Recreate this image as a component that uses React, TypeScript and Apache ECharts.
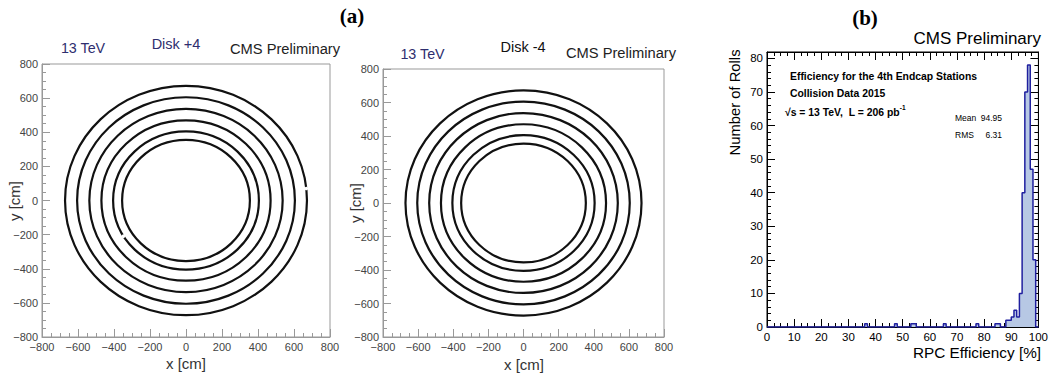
import React, { useEffect, useRef } from 'react';
import * as echarts from 'echarts';

// ---- data ----
const ringRadiiCm = [355, 405, 470, 537, 605, 672];
// small chamber gaps: [ring radius (cm), angle (deg)]
const gapsDiskPlus4 = [[672, 6], [405, 211]];
const gapsDiskMinus4: number[][] = [];

const effBinStart = [36, 47, 53, 54, 65, 77, 84, 85, 88, 89, 90, 91, 92, 93, 94, 95, 96, 97, 98];
const effBinCount = [1, 1, 1, 1, 1, 1, 1, 1, 2, 2, 3, 5, 3, 10, 40, 70, 78, 47, 20];

const statsLabels = ['Mean', 'RMS'];
const statsValues = ['94.95', '6.31'];

const SANS = '"Liberation Sans", Arial, Helvetica, sans-serif';
const SERIF = '"Liberation Serif", "Times New Roman", serif';

const fmtMinus = (v: number) => (v < 0 ? '\u2212' + Math.abs(v) : String(v));

function ringAxes(gi: number) {
  const common = {
    gridIndex: gi,
    type: 'value',
    min: -800,
    max: 800,
    interval: 200,
    axisLine: { show: true, onZero: false, lineStyle: { color: '#999', width: 1 } },
    axisTick: { show: true, inside: true, length: 8, lineStyle: { color: '#999' } },
    minorTick: { show: true, splitNumber: 4, length: 4, lineStyle: { color: '#999' } },
    splitLine: { show: false },
    axisLabel: { color: '#444', fontSize: 11, fontFamily: SANS, formatter: fmtMinus, margin: 4, showMinLabel: true, showMaxLabel: true },
  };
  return { x: { ...common }, y: { ...common } };
}

function ringSeries(gi: number, gaps: number[][]) {
  return [
    {
      type: 'custom',
      xAxisIndex: gi,
      yAxisIndex: gi,
      clip: false,
      encode: { x: 0, y: 1 },
      data: ringRadiiCm.map((r) => [0, 0, r]),
      renderItem: (params: any, api: any) => {
        const r = api.value(2);
        const c = api.coord([0, 0]);
        const s = api.size([r, r]);
        return {
          type: 'ellipse',
          shape: { cx: c[0], cy: c[1], rx: s[0], ry: s[1] },
          style: { fill: 'none', stroke: '#111', lineWidth: 2.2 },
        };
      },
    },
    {
      type: 'custom',
      xAxisIndex: gi,
      yAxisIndex: gi,
      clip: false,
      encode: { x: 0, y: 1 },
      data: gaps.map((g) => [0, 0, g[0], g[1]]),
      renderItem: (params: any, api: any) => {
        const r = api.value(2);
        const a = (api.value(3) * Math.PI) / 180;
        const p = api.coord([r * Math.cos(a), r * Math.sin(a)]);
        return {
          type: 'circle',
          shape: { cx: p[0], cy: p[1], r: 1.8 },
          style: { fill: '#fff', stroke: 'none' },
        };
      },
    },
  ];
}

function txt(text: string, x: number, y: number, opts: any = {}) {
  const { rotation, ...style } = opts;
  return {
    type: 'text',
    x,
    y,
    rotation: rotation || 0,
    style: {
      text,
      fill: '#000',
      fontSize: 14,
      fontFamily: SANS,
      textAlign: 'center',
      textVerticalAlign: 'middle',
      ...style,
    },
  };
}

export default function App() {
  const ref = useRef<HTMLDivElement>(null);
  useEffect(() => {
    if (!ref.current) return;
    const chart = echarts.init(ref.current, undefined, { renderer: 'svg' });

    const histCounts: number[] = new Array(100).fill(0);
    effBinStart.forEach((b, i) => {
      histCounts[b] = effBinCount[i];
    });
    const histData = histCounts.map((c, i) => [i, c]).concat([[100, 0]]);

    const a0 = ringAxes(0);
    const a1 = ringAxes(1);

    const histTick = { show: true, inside: true, length: 8, lineStyle: { color: '#000' } };
    const histAxisLine = { show: true, onZero: false, lineStyle: { color: '#000', width: 1 } };
    const histX = {
      gridIndex: 2,
      type: 'value',
      min: 0,
      max: 100,
      interval: 10,
      axisLine: histAxisLine,
      axisTick: histTick,
      minorTick: { show: true, splitNumber: 4, length: 4, lineStyle: { color: '#000' } },
      splitLine: { show: false },
      axisLabel: { color: '#000', fontSize: 11.5, fontFamily: SANS, margin: 4 },
    };
    const histY = {
      gridIndex: 2,
      type: 'value',
      min: 0,
      max: 81.9,
      interval: 10,
      axisLine: histAxisLine,
      axisTick: histTick,
      minorTick: { show: true, splitNumber: 5, length: 4, lineStyle: { color: '#000' } },
      splitLine: { show: false },
      axisLabel: {
        color: '#000',
        fontSize: 11.5,
        fontFamily: SANS,
        margin: 4,
        formatter: (v: number) => (v % 10 === 0 ? String(v) : ''),
      },
    };

    const option: any = {
      animation: false,
      backgroundColor: '#fff',
      grid: [
        { left: 42, top: 64, width: 288, height: 273, show: true, borderColor: '#999', borderWidth: 1, backgroundColor: 'transparent' },
        { left: 383, top: 69, width: 281, height: 268, show: true, borderColor: '#999', borderWidth: 1, backgroundColor: 'transparent' },
        { left: 767, top: 52, width: 275, height: 275, show: true, borderColor: '#000', borderWidth: 1, backgroundColor: 'transparent' },
      ],
      xAxis: [
        a0.x,
        a1.x,
        histX,
        { ...histX, position: 'top', axisLabel: { show: false } },
      ],
      yAxis: [
        a0.y,
        a1.y,
        histY,
        { ...histY, position: 'right', axisLabel: { show: false } },
      ],
      series: [
        ...ringSeries(0, gapsDiskPlus4),
        ...ringSeries(1, gapsDiskMinus4),
        {
          type: 'line',
          xAxisIndex: 2,
          yAxisIndex: 2,
          step: 'end',
          symbol: 'none',
          data: histData,
          lineStyle: { color: '#1f1f9f', width: 1.5 },
          areaStyle: { color: '#b7c8e4', opacity: 1, origin: 'start' },
          z: 3,
        },
      ],
      graphic: [
        txt('(a)', 352, 16, { fontFamily: SERIF, fontWeight: 'bold', fontSize: 21 }),
        txt('(b)', 865, 18, { fontFamily: SERIF, fontWeight: 'bold', fontSize: 21 }),
        // panel 1
        txt('13 TeV', 83, 47.5, { fill: '#2e2e6e', fontSize: 14.3 }),
        txt('Disk +4', 176, 43.5, { fill: '#2e2e6e', fontSize: 14.5 }),
        txt('CMS Preliminary', 285, 48.5, { fill: '#222', fontSize: 14.7 }),
        txt('x [cm]', 186, 363, { fill: '#333', fontSize: 15 }),
        txt('y [cm]', 14, 201, { fill: '#333', fontSize: 15, rotation: Math.PI / 2 }),
        // panel 2
        txt('13 TeV', 422.5, 53.5, { fill: '#2e2e6e', fontSize: 14.3 }),
        txt('Disk -4', 523, 47, { fill: '#111', fontSize: 14.5 }),
        txt('CMS Preliminary', 621, 53, { fill: '#222', fontSize: 14.7 }),
        txt('x [cm]', 524, 364, { fill: '#333', fontSize: 15 }),
        txt('y [cm]', 355, 203, { fill: '#333', fontSize: 15, rotation: Math.PI / 2 }),
        // histogram
        txt('CMS Preliminary', 1041, 38, { textAlign: 'right', fontSize: 17 }),
        txt('Number of Rolls', 735, 102.5, { fontSize: 14.8, rotation: Math.PI / 2 }),
        txt('RPC Efficiency [%]', 1041, 352, { textAlign: 'right', fontSize: 15.3 }),
        txt('Efficiency for the 4th Endcap Stations', 790, 76, { textAlign: 'left', fontSize: 10.4, fontWeight: 'bold' }),
        txt('Collision Data 2015', 790, 93.5, { textAlign: 'left', fontSize: 10.4, fontWeight: 'bold' }),
        {
          type: 'text',
          x: 785,
          y: 110.5,
          style: {
            text: '{a|\u221As = 13 TeV,  L = 206 pb}{b|-1}',
            textAlign: 'left',
            textVerticalAlign: 'middle',
            fill: '#000',
            rich: {
              a: { fontSize: 10.4, fontWeight: 'bold', fontFamily: SANS, fill: '#000', lineHeight: 14, verticalAlign: 'bottom' },
              b: { fontSize: 6.5, fontWeight: 'bold', fontFamily: SANS, fill: '#000', lineHeight: 14, verticalAlign: 'top' },
            },
          },
        },
        txt(statsLabels[0], 955, 117.5, { textAlign: 'left', fontSize: 8.5 }),
        txt(statsValues[0], 1002, 117.5, { textAlign: 'right', fontSize: 8.5 }),
        txt(statsLabels[1], 955, 135, { textAlign: 'left', fontSize: 8.5 }),
        txt(statsValues[1], 1002, 135, { textAlign: 'right', fontSize: 8.5 }),
      ],
    };

    chart.setOption(option);
    return () => {
      chart.dispose();
    };
  }, []);

  return (
    <div
      ref={ref}
      style={{ position: 'fixed', left: 0, top: 0, width: 1051, height: 374, background: '#fff' }}
    />
  );
}
